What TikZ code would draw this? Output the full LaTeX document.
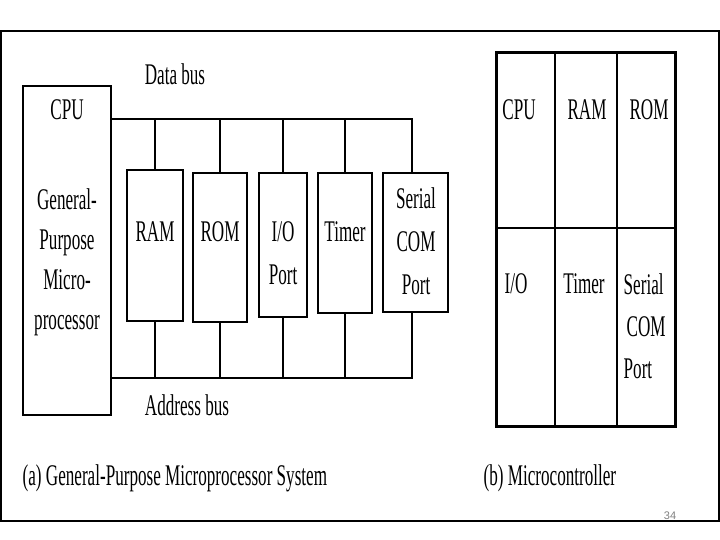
\documentclass[tikz,border=0pt]{standalone}
\usepackage{fontspec}
\setmainfont[FakeStretch=0.57]{Liberation Serif}
\newfontfamily\pagenumfont{Liberation Sans}
\begin{document}
\begin{tikzpicture}[x=1pt,y=-1pt,line width=1.4pt,
  box/.style={draw,inner sep=0pt},
  thickbox/.style={box,line width=2.2pt},
  cell/.style={box,line width=1.6pt},
  txt/.style={anchor=base,inner sep=0pt},
  block/.style={anchor=north,align=center,inner sep=0pt},
  every node/.style={font=\fontsize{30}{42}\selectfont}]
 \useasboundingbox (0,0) rectangle (720,540);
 \draw[line width=2.2pt] (1,31) rectangle (719,521);
 % (a) microprocessor system
 \node[box,minimum width=88pt,minimum height=329pt] (cpu) at (67,250.5) {};
 \node[thickbox,minimum width=56pt,minimum height=151pt] (ram) at (155,245.5) {};
 \node[thickbox,minimum width=54pt,minimum height=149pt] (rom) at (220,247.5) {};
 \node[box,minimum width=48pt,minimum height=144pt] (io) at (283,245) {};
 \node[box,minimum width=54pt,minimum height=140pt] (timer) at (345,243) {};
 \node[box,minimum width=65pt,minimum height=139pt] (serial) at (415.5,242.5) {};
 \coordinate (dbend) at (412,119);
 \coordinate (abend) at (412,378);
 \draw (cpu.east |- dbend) -- (dbend) -- (dbend |- serial.north);
 \draw (cpu.east |- abend) -- (abend) -- (abend |- serial.south);
 \foreach \b/\w in {ram/1.1pt,rom/2.2pt,io/1.1pt,timer/1.1pt}{
   \draw[line width=\w] (\b.north) -- (\b.north |- dbend);
   \draw[line width=\w] (\b.south) -- (\b.south |- abend);
 }
 \node[txt] (dblbl) at (175,85) {Data bus};
 \node[txt] (ablbl) at (187,415) {Address bus};
 \node[txt] (cpulbl) at (67,120) {CPU};
 \node[block,font=\fontsize{30}{40}\selectfont] (gplbl) at (67,188) {General-\\Purpose\\Micro-\\processor};
 \node[txt] (ramlbl) at (155,241) {RAM};
 \node[txt] (romlbl) at (220,241) {ROM};
 \node[block,font=\fontsize{30}{43}\selectfont] (iolbl) at (283,221) {I/O\\Port};
 \node[txt] (timerlbl) at (345,241) {Timer};
 \node[block,font=\fontsize{30}{43}\selectfont] (seriallbl) at (416,187) {Serial\\COM\\Port};
 \node[txt,anchor=base west] (capa) at (22,485) {(a) General-Purpose Microprocessor System};
 % (b) microcontroller
 \node[cell,minimum width=58pt,minimum height=175pt] (mcpu) at (526,140.5) {};
 \node[cell,minimum width=62pt,minimum height=175pt] (mram) at (586,140.5) {};
 \node[cell,minimum width=58pt,minimum height=175pt] (mrom) at (646,140.5) {};
 \node[cell,minimum width=58pt,minimum height=198pt] (mio) at (526,327) {};
 \node[cell,minimum width=62pt,minimum height=198pt] (mtimer) at (586,327) {};
 \node[cell,minimum width=58pt,minimum height=198pt] (mserial) at (646,327) {};
 \draw[line width=2.2pt] (mcpu.north west) rectangle (mserial.south east);
 \node[txt] (mcpulbl) at (519,120) {CPU};
 \node[txt] (mramlbl) at (587,120) {RAM};
 \node[txt] (mromlbl) at (649,120) {ROM};
 \node[txt] (miolbl) at (516,293) {I/O};
 \node[txt] (mtimerlbl) at (584,293) {Timer};
 \node[block,anchor=north west,align=left] (mseriallbl) at (623,273) {Serial\\\hspace{3pt}COM\\Port};
 \node[txt,anchor=base west] (capb) at (483,485) {(b) Microcontroller};
 \node[txt,font=\pagenumfont\fontsize{11}{13}\selectfont,text=gray] (pagenum) at (670,519) {34};
\end{tikzpicture}
\end{document}
